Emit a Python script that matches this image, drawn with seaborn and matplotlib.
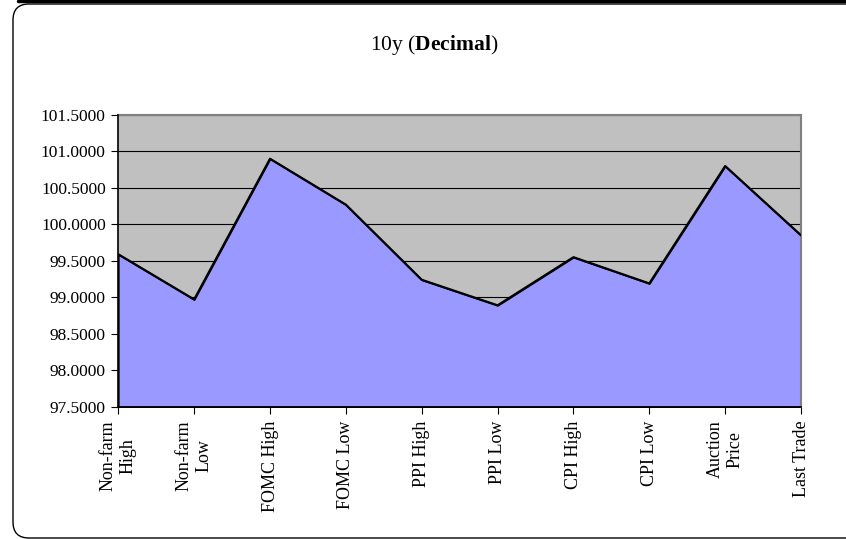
import matplotlib
matplotlib.use("Agg")
import matplotlib.pyplot as plt
import seaborn as sns
import pandas as pd
from matplotlib.patches import FancyBboxPatch
from matplotlib.lines import Line2D
from matplotlib.transforms import IdentityTransform
from matplotlib.ticker import FormatStrFormatter

categories = ["Non-farm\nHigh", "Non-farm\nLow", "FOMC High", "FOMC Low", "PPI High",
              "PPI Low", "CPI High", "CPI Low", "Auction\nPrice", "Last Trade"]
values = [99.59, 98.97, 100.90, 100.27, 99.24, 98.89, 99.55, 99.19, 100.80, 99.85]
y_ticks = [97.5, 98.0, 98.5, 99.0, 99.5, 100.0, 100.5, 101.0, 101.5]
title_plain = "10y ("
title_bold = "Decimal"

sns.set_theme(style="white")
plt.rcParams['font.family'] = ['Liberation Serif', 'DejaVu Serif']
plt.rcParams['mathtext.fontset'] = 'custom'
plt.rcParams['mathtext.rm'] = 'Liberation Serif'
plt.rcParams['mathtext.bf'] = 'Liberation Serif:bold'

df = pd.DataFrame({"pos": list(range(len(categories))), "value": values})

fig = plt.figure(figsize=(8.46, 5.39), dpi=100)
ax = fig.add_axes([118.3 / 846, (539 - 406.7) / 539, (801 - 118.3) / 846, (406.7 - 115) / 539])
ax.set_facecolor("#C0C0C0")

ymin, ymax = y_ticks[0], y_ticks[-1]
ax.fill_between(df["pos"], df["value"], ymin, facecolor="#9999FF", edgecolor="black",
                linewidth=1.2, zorder=2)
sns.lineplot(data=df, x="pos", y="value", color="black", linewidth=1.6, ax=ax, zorder=3)

ax.set_xlim(0, len(categories) - 1)
ax.set_ylim(ymin, ymax)
ax.set_yticks(y_ticks)
ax.yaxis.set_major_formatter(FormatStrFormatter("%.4f"))
ax.set_xticks(df["pos"])
ax.set_xticklabels(categories, rotation=90, ha="center", va="top", multialignment="center")
ax.set_xlabel("")
ax.set_ylabel("")

ax.yaxis.grid(True, color="black", linewidth=0.8, zorder=1)
ax.set_axisbelow(True)

ax.tick_params(axis="both", which="both", direction="out", length=5, width=0.8,
               color="black", labelcolor="black")
ax.tick_params(axis="y", labelsize=12.5, pad=4)
ax.tick_params(axis="x", labelsize=13, pad=5)
ax.xaxis.set_ticks_position("bottom")
ax.yaxis.set_ticks_position("left")

for side in ["left", "bottom"]:
    ax.spines[side].set_color("black")
    ax.spines[side].set_linewidth(1.2)
    ax.spines[side].set_zorder(4)
for side in ["top", "right"]:
    ax.spines[side].set_color("#808080")
    ax.spines[side].set_linewidth(1.5)

fig.text(434 / 846, 1 - 45 / 539, title_plain + r"$\bf{" + title_bold + r"}$" + ")",
         ha="center", va="center", fontsize=15.5, color="black")

border = FancyBboxPatch((13, 1), 860, 534, boxstyle="round,pad=0,rounding_size=16",
                        transform=IdentityTransform(), facecolor="none",
                        edgecolor="black", linewidth=1.0)
fig.add_artist(border)
fig.add_artist(Line2D([18, 846], [538.5, 538.5], transform=IdentityTransform(),
                      color="black", linewidth=2.5))

fig.savefig("out.png", dpi=100)
